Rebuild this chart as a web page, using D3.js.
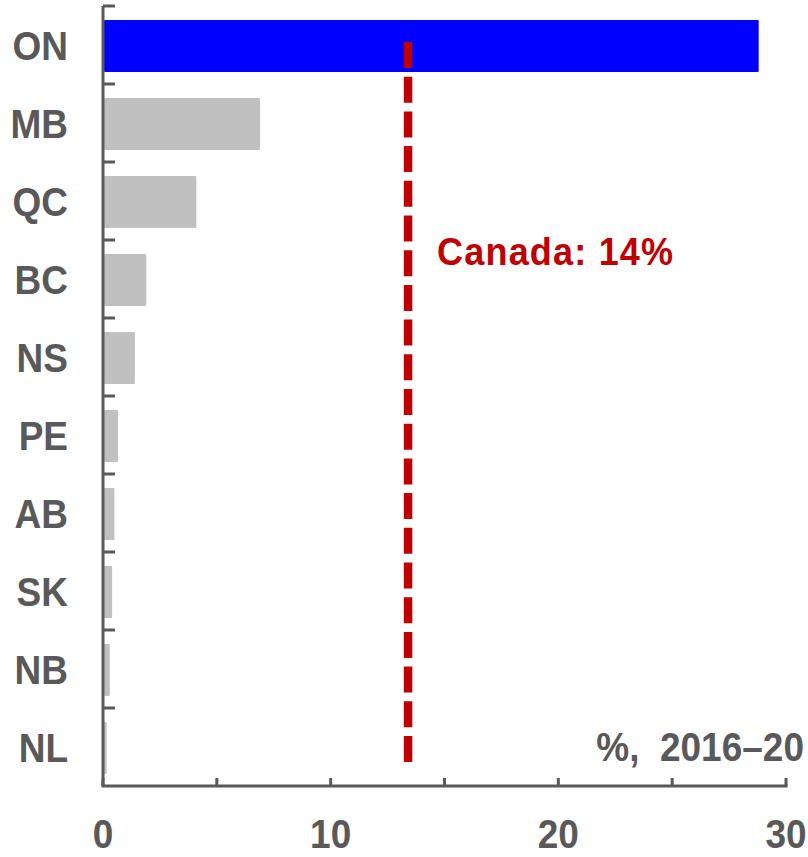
<!DOCTYPE html>
<html>
<head>
<meta charset="utf-8">
<script src="https://cdn.jsdelivr.net/npm/d3@7"></script>
<style>
  body { margin: 0; background: #fff; }
  svg { display: block; }
  text { font-family: "Liberation Sans", Arial, sans-serif; font-weight: bold; }
</style>
</head>
<body>
<svg id="chart" width="808" height="857"></svg>
<script>
var provinces = ["ON", "MB", "QC", "BC", "NS", "PE", "AB", "SK", "NB", "NL"];
var shares = [28.8, 6.9, 4.1, 1.9, 1.4, 0.66, 0.5, 0.4, 0.3, 0.16];
var highlight = "ON";
var canadaValue = 13.4;
var canadaLabel = "Canada: 14%";
var unitsLabel = "%,  2016\u201320";
var xTickLabels = [0, 10, 20, 30];

var textColor = "#595959";
var axisColor = "#595959";
var barColor = "#c0c0c0";
var highlightColor = "#0000ff";
var lineColor = "#c00000";

var svg = d3.select("#chart");

var x = d3.scaleLinear().domain([0, 30]).range([103, 786]);
var y = d3.scaleBand()
  .domain(provinces)
  .range([7, 787])
  .paddingInner(1 / 3)
  .paddingOuter(1 / 6);

var data = provinces.map(function (p, i) { return {id: p, value: shares[i]}; });

// text is slightly taller than wide in the original
function place(px, py) {
  return "translate(" + px + "," + py + ") scale(1,1.08)";
}

// bars
svg.append("g")
  .selectAll("rect")
  .data(data)
  .enter().append("rect")
  .attr("x", x(0) + 1)
  .attr("y", function (d) { return y(d.id); })
  .attr("width", function (d) { return x(d.value) - x(0) - 1; })
  .attr("height", y.bandwidth())
  .attr("rx", 1)
  .style("fill", function (d) { return d.id === highlight ? highlightColor : barColor; });

// canada average line
svg.append("line")
  .attr("x1", x(canadaValue)).attr("x2", x(canadaValue))
  .attr("y1", 42).attr("y2", 764)
  .style("stroke", lineColor)
  .style("stroke-width", 8.5)
  .style("stroke-dasharray", "26,8.7");

svg.append("text")
  .attr("transform", place(x(canadaValue) + 29, 265))
  .style("font-size", "36px")
  .style("letter-spacing", "1.2px")
  .style("fill", lineColor)
  .text(canadaLabel);

// y axis with ticks at band boundaries
var yAxis = svg.append("g");
var r = [6, 786];
yAxis.append("line")
  .attr("x1", x(0)).attr("x2", x(0))
  .attr("y1", r[0]).attr("y2", r[1])
  .style("stroke", axisColor).style("stroke-width", 3);
var bounds = d3.range(provinces.length).map(function (i) { return r[0] + i * y.step(); });
yAxis.selectAll(".ytick")
  .data(bounds)
  .enter().append("line")
  .attr("class", "ytick")
  .attr("x1", x(0)).attr("x2", x(0) + 12)
  .attr("y1", function (d) { return d; }).attr("y2", function (d) { return d; })
  .style("stroke", axisColor).style("stroke-width", 3);
yAxis.selectAll(".ylabel")
  .data(provinces)
  .enter().append("text")
  .attr("class", "ylabel")
  .attr("transform", function (d) { return place(68, y(d) + y.bandwidth() / 2 + 13.5); })
  .attr("text-anchor", "end")
  .style("font-size", "37px")
  .style("fill", textColor)
  .text(function (d) { return d; });

// x axis
var xAxis = svg.append("g");
xAxis.append("line")
  .attr("x1", x(0) - 1.5).attr("x2", x(30) + 1.5)
  .attr("y1", 786).attr("y2", 786)
  .style("stroke", axisColor).style("stroke-width", 3);
xAxis.selectAll(".xtick")
  .data(x.ticks(6))
  .enter().append("line")
  .attr("class", "xtick")
  .attr("x1", function (d) { return x(d); }).attr("x2", function (d) { return x(d); })
  .attr("y1", 786).attr("y2", 778)
  .style("stroke", axisColor).style("stroke-width", 3);
xAxis.selectAll(".xlabel")
  .data(xTickLabels)
  .enter().append("text")
  .attr("class", "xlabel")
  .attr("transform", function (d) { return place(x(d), 848); })
  .attr("text-anchor", "middle")
  .style("font-size", "37px")
  .style("fill", textColor)
  .text(function (d) { return d; });

svg.append("text")
  .attr("transform", place(804, 761))
  .attr("text-anchor", "end")
  .style("font-size", "37px")
  .style("white-space", "pre")
  .style("fill", textColor)
  .text(unitsLabel);
</script>
</body>
</html>
